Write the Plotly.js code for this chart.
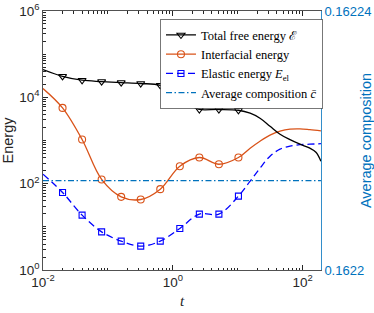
<!DOCTYPE html>
<html><head><meta charset="utf-8">
<script src="https://cdn.plot.ly/plotly-3.0.1.min.js"></script>
<style>body{margin:0;background:#fff;} #chart{width:374px;height:313px;}</style>
</head><body><div id="chart"></div>
<script>
// marker times and values
const markerTimes = [0.02, 0.04, 0.08, 0.16, 0.32, 0.64, 1.28, 2.56, 5.12, 10.24];
const totalMarkers = [30700, 24900, 23200, 22000, 20900, 19000, 11200, 5230, 5230, 5020];
const interfMarkers = [5690, 1055, 125, 49.5, 43, 74.6, 254, 404, 282, 404];
const elasticMarkers = [62.5, 18.7, 7.66, 4.67, 3.57, 4.67, 9.18, 19.7, 19.7, 51.4];

// curve samples
const totalTimes = [0.01, 0.02, 0.04, 0.08, 0.16, 0.32, 0.64, 1.28, 2.07, 2.56, 5.12, 10.24, 15.5, 22, 31.4, 44.8, 63.8, 90.8, 129, 160, 191];
const totalCurve = [44000, 30700, 24900, 23200, 22000, 20900, 19000, 11200, 6000, 5230, 5230, 5020, 4290, 3280, 2140, 1400, 1045, 820, 663, 536, 332];
const curveTimes = [0.01, 0.02, 0.04, 0.08, 0.16, 0.32, 0.64, 1.28, 2.56, 5.12, 10.24, 15.5, 22, 31.4, 44.8, 63.8, 90.8, 129, 191];
const interfCurve = [16000, 5690, 1055, 125, 49.5, 43, 74.6, 254, 404, 282, 404, 664, 964, 1330, 1640, 1830, 1860, 1780, 1670];
const elasticCurve = [166, 62.5, 18.7, 7.66, 4.67, 3.57, 4.67, 9.18, 19.7, 19.7, 51.4, 114, 229, 433, 630, 738, 800, 820, 843];

const avgTimes = [0.01, 191];
const avgComp = [0.1622138, 0.1622138];

const xTickVals = [0.01, 1, 100];
const xTickText = ['10<sup>-2</sup>', '10<sup>0</sup>', '10<sup>2</sup>'];
const yTickVals = [1, 100, 10000, 1000000];
const yTickText = ['10<sup>0</sup>', '10<sup>2</sup>', '10<sup>4</sup>', '10<sup>6</sup>'];
const y2TickVals = [0.1622, 0.16224];
const y2TickText = ['0.1622', '0.16224'];

const cBlack = '#000000', cOrange = '#D95319', cBlue = '#0000FF', cAvg = '#0072BD';

function sep(xs, ys) {
  const X = [], Y = [];
  xs.forEach((v, i) => { X.push(v, null); Y.push(ys[i], null); });
  return {X, Y};
}
function minorVals(lo, hi, majors) {
  const out = [];
  for (let e = lo; e < hi; e++) for (let k = 1; k <= 9; k++) {
    const v = k * Math.pow(10, e);
    if (!majors.some(m => Math.abs(m - v) / v < 1e-9)) out.push(v);
  }
  return out;
}
const mT = sep(markerTimes, totalMarkers);
const mI = sep(markerTimes, interfMarkers);
const mE = sep(markerTimes, elasticMarkers);

const lw = 1.3;
const traces = [
  {x: curveTimes, y: interfCurve, mode: 'lines', line: {color: cOrange, width: lw, shape: 'spline'}, showlegend: false, hoverinfo: 'skip'},
  {x: curveTimes, y: elasticCurve, mode: 'lines', line: {color: cBlue, width: lw, shape: 'spline', dash: '7px,4px'}, showlegend: false, hoverinfo: 'skip'},
  {x: totalTimes, y: totalCurve, mode: 'lines', line: {color: cBlack, width: lw, shape: 'spline'}, showlegend: false, hoverinfo: 'skip'},
  {x: mT.X, y: mT.Y, mode: 'lines+markers', connectgaps: false, name: 'Total free energy ℰ',
   line: {color: cBlack, width: lw}, marker: {symbol: 'triangle-down-open', size: 7, color: cBlack, line: {width: 1.1}}},
  {x: mI.X, y: mI.Y, mode: 'lines+markers', connectgaps: false, name: 'Interfacial energy',
   line: {color: cOrange, width: lw}, marker: {symbol: 'circle-open', size: 7, color: cOrange, line: {width: 1.1}}},
  {x: mE.X, y: mE.Y, mode: 'lines+markers', connectgaps: false, name: 'Elastic energy <i>E</i><sub>el</sub>',
   line: {color: cBlue, width: lw, dash: '7px,4px'}, marker: {symbol: 'square-open', size: 6, color: cBlue, line: {width: 1.1}}},
  {x: avgTimes, y: avgComp, yaxis: 'y2', mode: 'lines', name: 'Average composition <i>c̄</i>',
   line: {color: cAvg, width: lw, dash: '6px,2.5px,1.5px,2.5px'}}
];

const axisFont = {family: 'Liberation Sans, Arial, sans-serif', size: 13.5, color: '#262626'};
const layout = {
  width: 374, height: 313,
  margin: {l: 43, r: 53, t: 11, b: 43},
  paper_bgcolor: '#fff', plot_bgcolor: '#fff',
  showlegend: true,
  legend: {x: 0.4215, y: 0.967, xanchor: 'left', yanchor: 'top', bgcolor: '#fff', bordercolor: '#555', borderwidth: 0.8,
           font: {family: 'Liberation Serif, Times New Roman, serif', size: 12.5, color: '#000'}, tracegroupgap: 0, itemwidth: 30},
  xaxis: {type: 'log', range: [-2, 2.282], tickmode: 'array', tickvals: xTickVals, ticktext: xTickText, showgrid: false, zeroline: false,
          ticks: 'inside', ticklen: 5, tickcolor: '#262626', showline: true, linecolor: '#262626', linewidth: 0.8, mirror: 'ticks',
          minor: {tickmode: 'array', tickvals: minorVals(-2, 3, xTickVals), ticks: 'inside', ticklen: 2.5, tickcolor: '#262626', showgrid: false},
          tickfont: axisFont,
          title: {text: '<i>t</i>', font: {family: 'Liberation Serif, serif', size: 15, color: '#262626'}, standoff: 6}},
  yaxis: {type: 'log', range: [0, 6], tickmode: 'array', tickvals: yTickVals, ticktext: yTickText, showgrid: false, zeroline: false,
          ticks: 'inside', ticklen: 5, tickcolor: '#262626', showline: true, linecolor: '#262626', linewidth: 0.8,
          minor: {tickmode: 'array', tickvals: minorVals(0, 6, yTickVals), ticks: 'inside', ticklen: 2.5, tickcolor: '#262626', showgrid: false},
          tickfont: axisFont,
          title: {text: 'Energy', font: {family: 'Liberation Sans, Arial, sans-serif', size: 14.5, color: '#262626'}, standoff: 4}},
  yaxis2: {overlaying: 'y', side: 'right', range: [0.1622, 0.16224], tickmode: 'array', tickvals: y2TickVals, ticktext: y2TickText,
           showgrid: false, zeroline: false, ticks: 'inside', ticklen: 5, tickcolor: cAvg, showline: true, linecolor: cAvg, linewidth: 0.8,
           tickfont: {family: 'Liberation Sans, Arial, sans-serif', size: 13, color: cAvg},
           title: {text: 'Average composition', font: {family: 'Liberation Sans, Arial, sans-serif', size: 14.5, color: cAvg}, standoff: 6}}
};
Plotly.newPlot('chart', traces, layout, {displayModeBar: false, staticPlot: true});
</script></body></html>
